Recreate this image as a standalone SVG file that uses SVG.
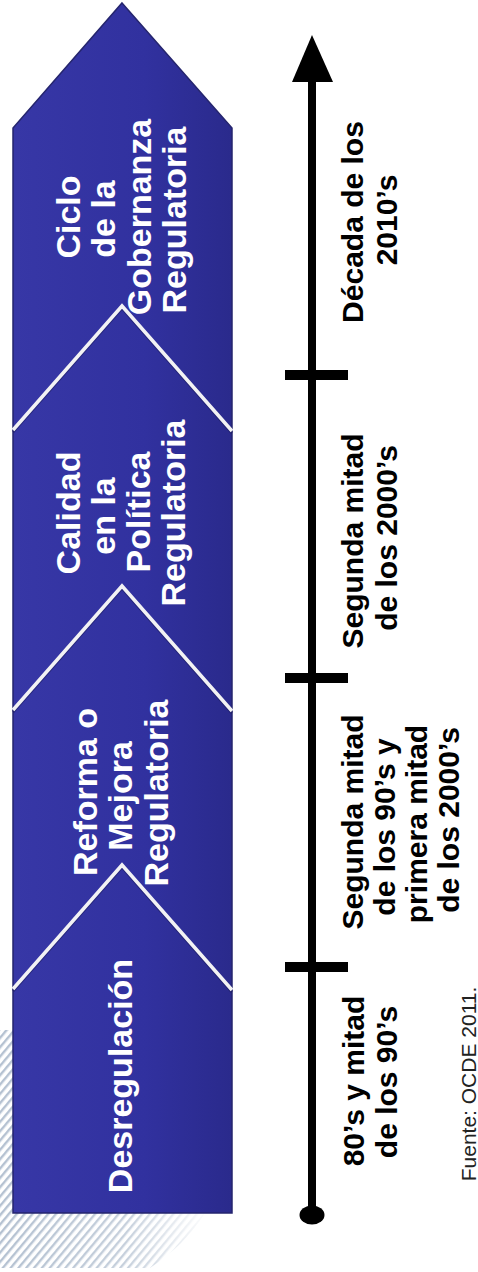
<svg xmlns="http://www.w3.org/2000/svg" width="478" height="1272" viewBox="0 0 478 1272">
<style>
.col{font-family:"Liberation Sans",Arial,sans-serif;font-weight:bold;font-size:34px;fill:#ffffff;text-anchor:middle}
.tl{font-family:"Liberation Sans",Arial,sans-serif;font-weight:bold;font-size:30px;fill:#000000;text-anchor:middle}
.src{font-family:"Liberation Sans",Arial,sans-serif;font-size:21px;fill:#222222;text-anchor:middle}
.chev{fill:none;stroke:#f2f2f4;stroke-width:3.5;stroke-linejoin:miter}
.chevsh{fill:none;stroke:#1c1c5c;stroke-width:3;stroke-opacity:0.55}
.tick{stroke:#000;stroke-width:10}
</style>
<defs>
<linearGradient id="colg" x1="0" y1="0" x2="1" y2="0">
<stop offset="0" stop-color="#3737a6"/>
<stop offset="0.6" stop-color="#31319f"/>
<stop offset="1" stop-color="#2a2a8c"/>
</linearGradient>
<pattern id="stripes" width="6" height="6" patternUnits="userSpaceOnUse" patternTransform="rotate(40)">
<rect x="0" y="0" width="2.4" height="6" fill="#b4c1d1"/>
</pattern>
<linearGradient id="fade" gradientUnits="userSpaceOnUse" x1="0" y1="0" x2="210" y2="0">
<stop offset="0" stop-color="#fff" stop-opacity="1"/>
<stop offset="0.6" stop-color="#fff" stop-opacity="0.75"/>
<stop offset="1" stop-color="#fff" stop-opacity="0"/>
</linearGradient>
<mask id="fm" maskUnits="userSpaceOnUse" x="0" y="1000" width="220" height="272"><rect x="0" y="1000" width="210" height="272" fill="url(#fade)"/></mask>
</defs>
<rect width="478" height="1272" fill="#ffffff"/>
<path d="M0,1030 L20,1030 L20,1213 L205,1213 Q185,1245 150,1268 L0,1268 Z" fill="url(#stripes)" mask="url(#fm)"/>
<g id="column">
<polygon points="122,3 232,128 232,1213 13,1213 13,128" fill="url(#colg)" stroke="#25256e" stroke-width="1.5"/>
<polyline class="chevsh" points="13,432 122,308 232,433"/>
<polyline class="chev" points="13,430 122,306 232,431"/>
<polyline class="chevsh" points="13,712 122,588 232,713"/>
<polyline class="chev" points="13,710 122,586 232,711"/>
<polyline class="chevsh" points="13,991 122,867 232,992"/>
<polyline class="chev" points="13,989 122,865 232,990"/>
</g>
<g id="stage-ciclo" transform="rotate(-90)">
<text class="col" x="-217" y="80">Ciclo</text>
<text class="col" x="-219" y="115">de la</text>
<text class="col" x="-217" y="151">Gobernanza</text>
<text class="col" x="-220" y="186">Regulatoria</text>
</g>
<g id="stage-calidad" transform="rotate(-90)">
<text class="col" x="-513" y="80">Calidad</text>
<text class="col" x="-516" y="115">en la</text>
<text class="col" x="-512" y="150">Política</text>
<text class="col" x="-513" y="185">Regulatoria</text>
</g>
<g id="stage-reforma" transform="rotate(-90)">
<text class="col" x="-792" y="97">Reforma o</text>
<text class="col" x="-796" y="132">Mejora</text>
<text class="col" x="-793" y="168">Regulatoria</text>
</g>
<g id="stage-desregulacion" transform="rotate(-90)">
<text class="col" x="-1076" y="132">Desregulación</text>
</g>
<g id="connectors">
<line x1="312" y1="1213" x2="312" y2="78" stroke="#000" stroke-width="8"/>
<polygon points="312,35 292,82 333,82" fill="#000"/>
<line class="tick" x1="285" y1="375" x2="348" y2="375"/>
<line class="tick" x1="285" y1="678" x2="348" y2="678"/>
<line class="tick" x1="285" y1="967" x2="348" y2="967"/>
<ellipse cx="312" cy="1215" rx="12.5" ry="9.5" fill="#000"/>
</g>
<g id="label-2010" transform="rotate(-90)">
<text class="tl" x="-222" y="363">Década de los</text>
<text class="tl" x="-220" y="397">2010’s</text>
</g>
<g id="label-2000" transform="rotate(-90)">
<text class="tl" x="-541" y="363">Segunda mitad</text>
<text class="tl" x="-538" y="397">de los 2000’s</text>
</g>
<g id="label-90-2000" transform="rotate(-90)">
<text class="tl" x="-822" y="363">Segunda mitad</text>
<text class="tl" x="-827" y="395">de los 90’s y</text>
<text class="tl" x="-824" y="427">primera mitad</text>
<text class="tl" x="-820" y="459">de los 2000’s</text>
</g>
<g id="label-80" transform="rotate(-90)">
<text class="tl" x="-1081" y="364">80’s y mitad</text>
<text class="tl" x="-1082" y="397">de los 90’s</text>
</g>
<g id="source" transform="rotate(-90)">
<text class="src" x="-1084" y="476">Fuente: OCDE 2011.</text>
</g>
</svg>
